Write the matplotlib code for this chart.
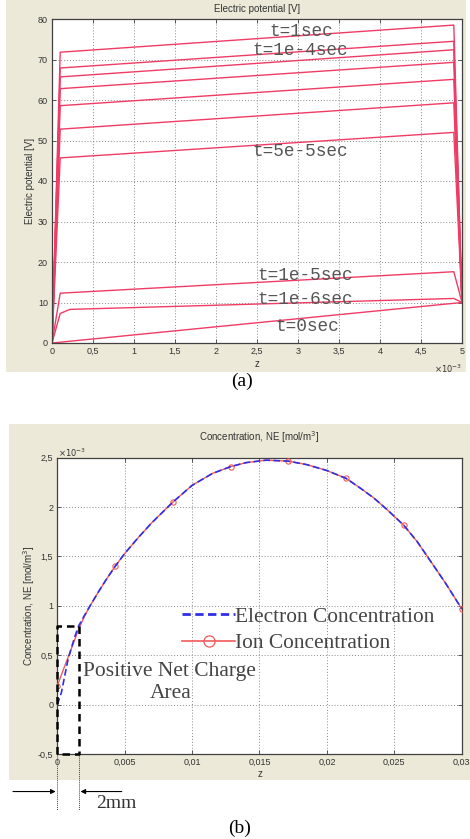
import matplotlib
matplotlib.use('Agg')
import matplotlib.pyplot as plt
from matplotlib.lines import Line2D
from matplotlib.patches import Rectangle

# ---------------- data: panel (a) electric potential ----------------
pot_z_knots = [0.0, 0.1, 4.9, 5.0]            # z (x1e-3)
pot_left = [45.7, 52.8, 58.6, 62.8, 65.7, 67.9, 71.8]   # V at z=0.1e-3
pot_right = [52.0, 59.3, 65.1, 69.3, 72.4, 74.5, 78.5]  # V at z=4.9e-3
pot_edge = [0.0, 10.0]                         # boundary values (left, right)
t1e5_v = [0.0, 12.3, 17.6, 10.0]
t1e6_z = [0.0, 0.1, 0.22, 4.9, 5.0]
t1e6_v = [0.0, 7.3, 8.3, 11.0, 10.0]
t0_z = [0.0, 5.0]
t0_v = [0.0, 10.0]
pot_labels = ['t=1sec', 't=1e-4sec', 't=5e-5sec', 't=1e-5sec', 't=1e-6sec', 't=0sec']
pot_label_x = [2.65, 2.44, 2.44, 2.50, 2.50, 2.72]
pot_label_y = [76.8, 72.3, 47.2, 16.6, 10.8, 4.0]
a_xticks = [0, 0.5, 1, 1.5, 2, 2.5, 3, 3.5, 4, 4.5, 5]
a_xticklabels = ['0', '0,5', '1', '1,5', '2', '2,5', '3', '3,5', '4', '4,5', '5']
a_yticks = [0, 10, 20, 30, 40, 50, 60, 70, 80]
a_yticklabels = ['0', '10', '20', '30', '40', '50', '60', '70', '80']

# ---------------- data: panel (b) concentration ----------------
conc_z_mm = [0, 0.3, 0.8, 1.3, 1.6, 2.0, 2.43, 3.0, 3.6, 4.29, 5.0, 6.0, 7.0, 8.57,
             10.0, 11.5, 12.86, 14.0, 15.5, 17.14, 18.5, 20.0, 21.43, 22.5, 23.5,
             24.5, 25.71, 26.7, 27.7, 28.8, 30.0]
electron = [0.0, 0.12, 0.46, 0.69, 0.80, 0.90, 1.00, 1.13, 1.26, 1.40, 1.53, 1.69,
            1.84, 2.05, 2.22, 2.34, 2.41, 2.45, 2.475, 2.465, 2.43, 2.37, 2.29,
            2.19, 2.09, 1.97, 1.815, 1.65, 1.45, 1.23, 0.97]
ion = [0.19, 0.30, 0.48, 0.66, 0.77, 0.89, 1.00, 1.13, 1.26, 1.40, 1.53, 1.69,
       1.84, 2.05, 2.22, 2.34, 2.41, 2.45, 2.475, 2.465, 2.43, 2.37, 2.29,
       2.19, 2.09, 1.97, 1.815, 1.65, 1.45, 1.23, 0.97]
ion_marker_idx = [0, 9, 13, 16, 19, 22, 26, 30]
net_charge_z = [0.0, 0.0016]
net_charge_v = [-0.5, 0.8]
dim_arrow_y = -0.88
dim_line_bottom = -1.07
b_xticks = [0, 0.005, 0.01, 0.015, 0.02, 0.025, 0.03]
b_xticklabels = ['0', '0,005', '0,01', '0,015', '0,02', '0,025', '0,03']
b_yticks = [-0.5, 0, 0.5, 1, 1.5, 2, 2.5]
b_yticklabels = ['-0,5', '0', '0,5', '1', '1,5', '2', '2,5']

# ---------------- figure ----------------
W, H = 470, 839
fig = plt.figure(figsize=(W / 100, H / 100), dpi=100)
fig.patch.set_facecolor('white')


def fx(px):
    return px / W


def fy(py):
    return 1 - py / H


BG = '#ece9d8'
fig.patches.append(Rectangle((fx(6), fy(372)), fx(460), 372 / H, transform=fig.transFigure,
                             facecolor=BG, edgecolor='none', zorder=-10))
fig.patches.append(Rectangle((fx(9), fy(780)), fx(461), 356 / H, transform=fig.transFigure,
                             facecolor=BG, edgecolor='none', zorder=-10))

SANS = 'Liberation Sans'
SERIF = 'Liberation Serif'
MONO = 'Liberation Mono'
TXT = '#333333'


def style(ax):
    for s in ax.spines.values():
        s.set_color('#404040')
        s.set_linewidth(0.9)
    ax.tick_params(direction='in', length=3, width=0.6, colors='#404040', labelsize=6.5,
                   labelcolor=TXT, top=True, right=True, pad=3)
    for lab in ax.get_xticklabels() + ax.get_yticklabels():
        lab.set_family(SANS)
    ax.grid(True, color='#8a8a8a', linestyle=(0, (1, 2)), linewidth=0.7)
    ax.set_axisbelow(True)


# ---------------- panel (a) ----------------
ax1 = fig.add_axes([fx(52), fy(343), fx(410), 324 / H])
RED = '#f03c64'
for L, R in zip(pot_left, pot_right):
    ax1.plot(pot_z_knots, [pot_edge[0], L, R, pot_edge[1]], color=RED, lw=1.0)
ax1.plot(pot_z_knots, t1e5_v, color=RED, lw=1.0)
ax1.plot(t1e6_z, t1e6_v, color=RED, lw=1.0)
ax1.plot(t0_z, t0_v, color=RED, lw=1.0)
for s, x, y in zip(pot_labels, pot_label_x, pot_label_y):
    ax1.text(x, y, s, family=MONO, fontsize=12.8, color='#555555', ha='left', va='center')
ax1.set_xlim(0, 5)
ax1.set_ylim(0, 80)
ax1.set_xticks(a_xticks)
ax1.set_xticklabels(a_xticklabels)
ax1.set_yticks(a_yticks)
ax1.set_yticklabels(a_yticklabels)
style(ax1)

fig.text(fx(257), fy(9), 'Electric potential [V]', family=SANS, fontsize=7, color=TXT,
         ha='center', va='center')
fig.text(fx(30), fy(181), 'Electric potential [V]', family=SANS, fontsize=7, color=TXT,
         ha='center', va='center', rotation=90)
fig.text(fx(257), fy(364), 'z', family=SANS, fontsize=7, color=TXT, ha='center', va='center')
fig.text(fx(462), fy(369), r'$\times10^{-3}$', fontsize=6, color=TXT, ha='right', va='center')
fig.text(fx(242), fy(381), '(a)', family=SERIF, fontsize=14, color='black', ha='center', va='center')

# ---------------- panel (b) ----------------
ax2 = fig.add_axes([fx(57.3), fy(754), fx(404.4), 296.3 / H])
z_m = [z / 1000 for z in conc_z_mm]
ax2.plot(z_m, ion, color='#f05a5a', lw=1.0, marker='o', markersize=3.8, markerfacecolor='none',
         markeredgecolor='#f05a5a', markeredgewidth=0.8, markevery=ion_marker_idx, zorder=3)
ax2.plot(z_m, electron, color='#2f2fe6', lw=1.2, linestyle=(0, (4, 2)), zorder=4)
ax2.set_xlim(0, 0.03)
ax2.set_ylim(-0.5, 2.5)
ax2.set_xticks(b_xticks)
ax2.set_xticklabels(b_xticklabels)
ax2.set_yticks(b_yticks)
ax2.set_yticklabels(b_yticklabels)
style(ax2)

# positive net charge area
z0, z1 = net_charge_z
v0, v1 = net_charge_v
ax2.plot([z0, z0, z1, z1, z0], [v0, v1, v1, v0, v0], color='black', lw=1.8,
         linestyle=(0, (3, 2)), clip_on=False, zorder=5)
ax2.text(0.0019, 0.34, 'Positive Net Charge', family=SERIF, fontsize=15.5, color='#444444',
         ha='left', va='center')
ax2.text(0.0084, 0.11, 'Area', family=SERIF, fontsize=15.5, color='#444444',
         ha='center', va='center')

# legend
h_e = Line2D([], [], color='#2f2fe6', lw=2.0, linestyle=(0, (3, 1.6)))
h_i = Line2D([], [], color='#f05a5a', lw=1.2, marker='o', markersize=8, markerfacecolor='none',
             markeredgecolor='#f05a5a', markeredgewidth=0.9)
leg = ax2.legend([h_e, h_i], ['Electron Concentration', 'Ion Concentration'],
                 loc='upper left', bbox_to_anchor=(0.308, 0.497), frameon=False,
                 prop={'family': SERIF, 'size': 15.4}, handlelength=2.5, handletextpad=0.0,
                 borderpad=0, borderaxespad=0, labelspacing=0.3)
for t in leg.get_texts():
    t.set_color('#444444')

# dimension annotation (2 mm)
for z in net_charge_z:
    ax2.plot([z, z], [v0, dim_line_bottom], color='#444444', lw=0.7, linestyle=(0, (1, 1)),
             clip_on=False)
ax2.annotate('', xy=(z0 - 0.00012, dim_arrow_y), xytext=(-0.00329, dim_arrow_y),
             xycoords='data', annotation_clip=False,
             arrowprops=dict(arrowstyle='-|>', color='black', lw=0.8, mutation_scale=7,
                             shrinkA=0, shrinkB=0))
ax2.annotate('', xy=(z1 + 0.00012, dim_arrow_y), xytext=(0.00478, dim_arrow_y),
             xycoords='data', annotation_clip=False,
             arrowprops=dict(arrowstyle='-|>', color='black', lw=0.8, mutation_scale=7,
                             shrinkA=0, shrinkB=0))
ax2.text(0.00436, -1.006, '2mm', family=SERIF, fontsize=14, color='#333333',
         ha='center', va='center', clip_on=False)

fig.text(fx(259.5), fy(437), 'Concentration, NE [mol/m$^3$]', family=SANS, fontsize=7,
         color=TXT, ha='center', va='center')
fig.text(fx(29), fy(606), 'Concentration, NE [mol/m$^3$]', family=SANS, fontsize=7,
         color=TXT, ha='center', va='center', rotation=90)
fig.text(fx(260), fy(774), 'z', family=SANS, fontsize=7, color=TXT, ha='center', va='center')
fig.text(fx(58), fy(453), r'$\times10^{-3}$', fontsize=6, color=TXT, ha='left', va='center')
fig.text(fx(240), fy(828), '(b)', family=SERIF, fontsize=14, color='black', ha='center', va='center')

fig.savefig('out.png', dpi=100)
